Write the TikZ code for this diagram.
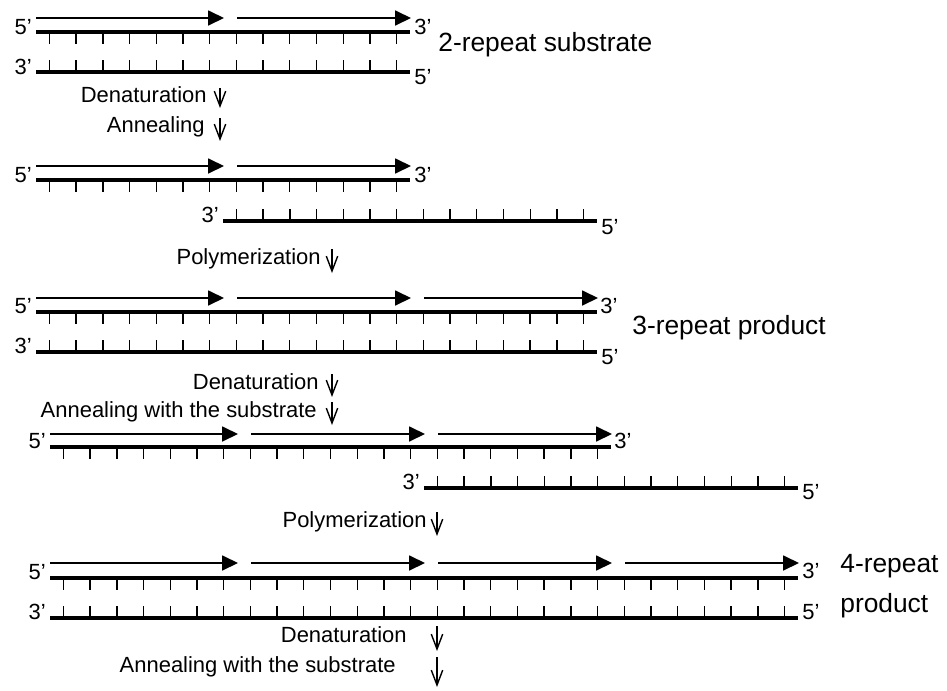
\documentclass[tikz,border=0pt]{standalone}
\usepackage{fontspec}
\setmainfont{Liberation Sans}
\usepackage{tikz}
\usetikzlibrary{positioning,arrows.meta}

\begin{document}
\begin{tikzpicture}[
    x=0.02cm, y=-0.02cm,
    strand/.style={line width=2.3pt},
    tick/.style={line width=0.8pt},
    repeatarrow/.style={line width=0.8pt, -{Triangle[length=9pt,width=8.5pt]}},
    stepline/.style={line width=0.8pt, -{Straight Barb[length=8.5pt,width=6.5pt]}},
    prime/.style={font=\fontsize{12.5}{14}\selectfont, inner sep=0pt, text height=0.72em, text depth=0pt},
    steplabel/.style={font=\fontsize{12.5}{15}\selectfont, anchor=east, inner sep=0pt, text height=0.72em, text depth=0.2em},
    prodlabel/.style={font=\fontsize{15}{18}\selectfont, anchor=west, inner sep=0pt, text height=0.72em, text depth=0.2em}
]
\useasboundingbox (0,0) rectangle (947,690);

% 2-repeat substrate
\foreach \k in {0,1} \draw[repeatarrow] ({36+187*\k+14*(\k>0)},18) -- ({36+187*(\k+1)+1},18);
\draw[strand] (36,32) -- (410,32);
\foreach \t in {0,...,13} \draw[tick] ({49.4+26.71*\t},32) -- ++(0,12);
\draw[strand] (36,72) -- (410,72);
\foreach \t in {0,...,13} \draw[tick] ({49.4+26.71*\t},72) -- ++(0,-12);
\node[prime, anchor=east] (a5t) at (32,28) {5’};  \node[prime, anchor=west] (a3t) at (414,28) {3’};
\node[prime, anchor=east] (a3b) at (32,68) {3’};  \node[prime, anchor=west] (a5b) at (414,78) {5’};
\node[prodlabel] (sub) at (438,47) {2-repeat substrate};

\node[steplabel] (den1) at (207,98) {Denaturation};
\coordinate (d1a) at (220,88); \coordinate (d1b) at (220,108);
\draw[stepline] (d1a) -- (d1b);
\node[steplabel] (ann1) at (205,128) {Annealing};
\coordinate (d2a) at (220,118); \coordinate (d2b) at (220,141);
\draw[stepline] (d2a) -- (d2b);

% annealed substrate
\foreach \k in {0,1} \draw[repeatarrow] ({36+187*\k+14*(\k>0)},166) -- ({36+187*(\k+1)+1},166);
\draw[strand] (36,180) -- (410,180);
\foreach \t in {0,...,13} \draw[tick] ({49.4+26.71*\t},180) -- ++(0,12);
\draw[strand] (223,221) -- (597,221);
\foreach \t in {0,...,13} \draw[tick] ({236.4+26.71*\t},221) -- ++(0,-12);
\node[prime, anchor=east] (b5t) at (32,176) {5’};  \node[prime, anchor=west] (b3t) at (414,176) {3’};
\node[prime, anchor=east] (b3b) at (219,216) {3’}; \node[prime, anchor=west] (b5b) at (601,228) {5’};

\node[steplabel] (pol1) at (321,260) {Polymerization};
\coordinate (d3a) at (332,249); \coordinate (d3b) at (332,273);
\draw[stepline] (d3a) -- (d3b);

% 3-repeat product
\foreach \k in {0,1,2} \draw[repeatarrow] ({36+187*\k+14*(\k>0)},298) -- ({36+187*(\k+1)+1},298);
\draw[strand] (36,312) -- (597,312);
\foreach \t in {0,...,20} \draw[tick] ({49.4+26.71*\t},312) -- ++(0,12);
\draw[strand] (36,352) -- (597,352);
\foreach \t in {0,...,20} \draw[tick] ({49.4+26.71*\t},352) -- ++(0,-12);
\node[prime, anchor=east] (c5t) at (32,307) {5’};  \node[prime, anchor=west] (c3t) at (600,307) {3’};
\node[prime, anchor=east] (c3b) at (32,347) {3’};  \node[prime, anchor=west] (c5b) at (601,358) {5’};
\node[prodlabel] (prod3) at (632,330) {3-repeat product};

\node[steplabel] (den2) at (319,385) {Denaturation};
\coordinate (d4a) at (332,374); \coordinate (d4b) at (332,397);
\draw[stepline] (d4a) -- (d4b);
\node[steplabel] (ann2) at (317,413) {Annealing with the substrate};
\coordinate (d5a) at (332,402); \coordinate (d5b) at (332,425);
\draw[stepline] (d5a) -- (d5b);

% product annealed with substrate
\foreach \k in {0,1,2} \draw[repeatarrow] ({50+187*\k+14*(\k>0)},434) -- ({50+187*(\k+1)+1},434);
\draw[strand] (50,447) -- (611,447);
\foreach \t in {0,...,20} \draw[tick] ({63.4+26.71*\t},447) -- ++(0,12);
\draw[strand] (424,488) -- (798,488);
\foreach \t in {0,...,13} \draw[tick] ({437.4+26.71*\t},488) -- ++(0,-12);
\node[prime, anchor=east] (d5t) at (46,442) {5’};  \node[prime, anchor=west] (d3t) at (614,442) {3’};
\node[prime, anchor=east] (d3bl) at (420,483) {3’}; \node[prime, anchor=west] (d5bl) at (802,493) {5’};

\node[steplabel] (pol2) at (427,523) {Polymerization};
\coordinate (d6a) at (437,512); \coordinate (d6b) at (437,536);
\draw[stepline] (d6a) -- (d6b);

% 4-repeat product
\foreach \k in {0,...,3} \draw[repeatarrow] ({50+187*\k+14*(\k>0)},563) -- ({50+187*(\k+1)+1},563);
\draw[strand] (50,578) -- (798,578);
\foreach \t in {0,...,27} \draw[tick] ({63.4+26.71*\t},578) -- ++(0,12);
\draw[strand] (50,618) -- (798,618);
\foreach \t in {0,...,27} \draw[tick] ({63.4+26.71*\t},618) -- ++(0,-12);
\node[prime, anchor=east] (e5t) at (46,573) {5’};  \node[prime, anchor=west] (e3t) at (802,572) {3’};
\node[prime, anchor=east] (e3b) at (46,613) {3’};  \node[prime, anchor=west] (e5b) at (802,613) {5’};
\node[prodlabel] (prod4a) at (840,568) {4-repeat};
\node[prodlabel] (prod4b) at (840,608) {product};

\node[steplabel] (den3) at (407,638) {Denaturation};
\coordinate (d7a) at (437,626); \coordinate (d7b) at (437,651);
\draw[stepline] (d7a) -- (d7b);
\node[steplabel] (ann3) at (396,668) {Annealing with the substrate};
\coordinate (d8a) at (437,657); \coordinate (d8b) at (437,687);
\draw[stepline] (d8a) -- (d8b);
\end{tikzpicture}
\end{document}
